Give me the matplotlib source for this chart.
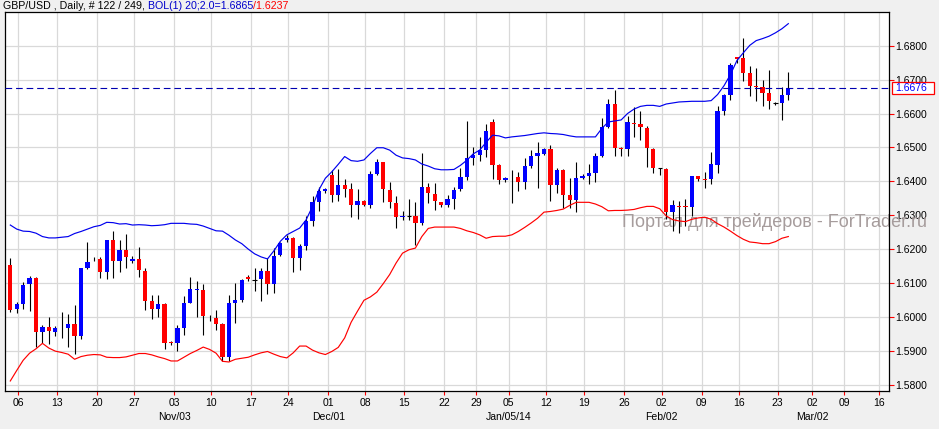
# -*- coding: utf-8 -*-
"""
GBP/USD daily candles with a 20/2.0 Bollinger band, drawn in the style of
a trading terminal window (right price scale, weekly date ticks).
"""

import matplotlib
matplotlib.use("Agg")
import matplotlib.pyplot as plt
import matplotlib.transforms as mtransforms
from matplotlib.patches import Rectangle

# =============================================================================
# --- DATA ---
# =============================================================================

opens = [
    1.6154, 1.6022, 1.6039, 1.6096, 1.6116, 1.5955, 1.5970, 1.5954, 1.5966, 1.5968,
    1.5980, 1.5944, 1.6143, 1.6172, 1.6170, 1.6131, 1.6227, 1.6164, 1.6196, 1.6164,
    1.6170, 1.6136, 1.6046, 1.6022, 1.6039, 1.5925, 1.5922, 1.5968, 1.6042, 1.6079,
    1.6080, 1.5998, 1.5997, 1.5979, 1.5883, 1.6042, 1.6051, 1.6119, 1.6110, 1.6111,
    1.6134, 1.6097, 1.6183, 1.6228, 1.6234, 1.6173, 1.6209, 1.6284, 1.6339, 1.6370,
    1.6419, 1.6359, 1.6389, 1.6377, 1.6331, 1.6342, 1.6329, 1.6423, 1.6456, 1.6375,
    1.6336, 1.6295, 1.6297, 1.6297, 1.6277, 1.6382, 1.6363, 1.6339, 1.6329, 1.6347,
    1.6377, 1.6413, 1.6468, 1.6477, 1.6493, 1.6575, 1.6448, 1.6404, 1.6412, 1.6413,
    1.6399, 1.6445, 1.6475, 1.6481, 1.6495, 1.6389, 1.6432, 1.6360, 1.6345, 1.6409,
    1.6417, 1.6425, 1.6475, 1.6559, 1.6629, 1.6499, 1.6494, 1.6573, 1.6569, 1.6558,
    1.6496, 1.6438, 1.6437, 1.6310, 1.6326, 1.6326, 1.6324, 1.6415, 1.6407, 1.6407,
    1.6447, 1.6607, 1.6654, 1.6767, 1.6764, 1.6718, 1.6681, 1.6677, 1.6661, 1.6630,
    1.6630, 1.6656,
]
highs = [
    1.6173, 1.6045, 1.6102, 1.6122, 1.6119, 1.5977, 1.6000, 1.5974, 1.6015, 1.6009,
    1.6035, 1.6145, 1.6220, 1.6177, 1.6177, 1.6228, 1.6254, 1.6227, 1.6245, 1.6179,
    1.6207, 1.6143, 1.6066, 1.6066, 1.6041, 1.5930, 1.5977, 1.6063, 1.6118, 1.6106,
    1.6096, 1.6005, 1.6021, 1.5982, 1.6066, 1.6099, 1.6112, 1.6125, 1.6145, 1.6143,
    1.6174, 1.6203, 1.6222, 1.6242, 1.6237, 1.6215, 1.6299, 1.6357, 1.6382, 1.6379,
    1.6433, 1.6436, 1.6406, 1.6394, 1.6378, 1.6344, 1.6431, 1.6466, 1.6458, 1.6399,
    1.6357, 1.6311, 1.6348, 1.6338, 1.6484, 1.6396, 1.6394, 1.6340, 1.6360, 1.6384,
    1.6438, 1.6577, 1.6502, 1.6531, 1.6569, 1.6585, 1.6450, 1.6413, 1.6433, 1.6426,
    1.6468, 1.6491, 1.6515, 1.6497, 1.6507, 1.6438, 1.6436, 1.6409, 1.6456, 1.6421,
    1.6451, 1.6484, 1.6587, 1.6642, 1.6669, 1.6502, 1.6593, 1.6619, 1.6607, 1.6563,
    1.6499, 1.6440, 1.6438, 1.6345, 1.6343, 1.6348, 1.6416, 1.6416, 1.6428, 1.6487,
    1.6621, 1.6658, 1.6748, 1.6768, 1.6823, 1.6739, 1.6734, 1.6700, 1.6727, 1.6634,
    1.6677, 1.6723,
]
lows = [
    1.6014, 1.6012, 1.6022, 1.6016, 1.5910, 1.5922, 1.5920, 1.5944, 1.5938, 1.5912,
    1.5891, 1.5934, 1.6142, 1.6165, 1.6114, 1.6112, 1.6114, 1.6133, 1.6145, 1.6158,
    1.6119, 1.6021, 1.5993, 1.6001, 1.5904, 1.5916, 1.5898, 1.5946, 1.6040, 1.6001,
    1.5946, 1.5988, 1.5961, 1.5869, 1.5871, 1.5983, 1.6043, 1.6107, 1.6076, 1.6047,
    1.6069, 1.6070, 1.6180, 1.6220, 1.6131, 1.6137, 1.6196, 1.6267, 1.6311, 1.6365,
    1.6340, 1.6342, 1.6353, 1.6296, 1.6290, 1.6326, 1.6321, 1.6418, 1.6339, 1.6321,
    1.6261, 1.6286, 1.6286, 1.6213, 1.6272, 1.6335, 1.6314, 1.6323, 1.6324, 1.6319,
    1.6372, 1.6404, 1.6448, 1.6460, 1.6473, 1.6407, 1.6393, 1.6399, 1.6335, 1.6372,
    1.6376, 1.6438, 1.6381, 1.6479, 1.6342, 1.6365, 1.6321, 1.6321, 1.6309, 1.6407,
    1.6391, 1.6397, 1.6473, 1.6556, 1.6476, 1.6476, 1.6476, 1.6531, 1.6523, 1.6443,
    1.6425, 1.6420, 1.6288, 1.6253, 1.6248, 1.6268, 1.6297, 1.6402, 1.6381, 1.6391,
    1.6425, 1.6597, 1.6641, 1.6749, 1.6695, 1.6653, 1.6636, 1.6623, 1.6612, 1.6626,
    1.6582, 1.6641,
]
closes = [
    1.6019, 1.6039, 1.6095, 1.6116, 1.5955, 1.5971, 1.5958, 1.5966, 1.5968, 1.5979,
    1.5944, 1.6143, 1.6161, 1.6170, 1.6131, 1.6227, 1.6164, 1.6196, 1.6177, 1.6170,
    1.6137, 1.6046, 1.6022, 1.6039, 1.5922, 1.5922, 1.5968, 1.6042, 1.6083, 1.6081,
    1.6004, 1.5996, 1.5980, 1.5883, 1.6042, 1.6051, 1.6110, 1.6111, 1.6110, 1.6134,
    1.6097, 1.6180, 1.6218, 1.6234, 1.6173, 1.6209, 1.6284, 1.6339, 1.6370, 1.6377,
    1.6360, 1.6389, 1.6377, 1.6331, 1.6342, 1.6329, 1.6423, 1.6456, 1.6376, 1.6339,
    1.6296, 1.6297, 1.6297, 1.6277, 1.6382, 1.6365, 1.6342, 1.6329, 1.6347, 1.6375,
    1.6413, 1.6468, 1.6479, 1.6493, 1.6548, 1.6448, 1.6405, 1.6409, 1.6414, 1.6399,
    1.6445, 1.6475, 1.6483, 1.6495, 1.6389, 1.6432, 1.6360, 1.6345, 1.6409, 1.6417,
    1.6425, 1.6475, 1.6559, 1.6629, 1.6499, 1.6494, 1.6574, 1.6569, 1.6560, 1.6497,
    1.6438, 1.6438, 1.6310, 1.6329, 1.6324, 1.6324, 1.6415, 1.6408, 1.6405, 1.6450,
    1.6607, 1.6654, 1.6744, 1.6761, 1.6718, 1.6682, 1.6677, 1.6661, 1.6636, 1.6630,
    1.6654, 1.6676,
]
bol_upper = [
    1.6271, 1.6259, 1.6253, 1.6252, 1.6247, 1.6237, 1.6233, 1.6233, 1.6235, 1.6237,
    1.6246, 1.6252, 1.6259, 1.6266, 1.6270, 1.6279, 1.6278, 1.6274, 1.6275, 1.6271,
    1.6272, 1.6271, 1.6269, 1.6270, 1.6272, 1.6276, 1.6276, 1.6276, 1.6274, 1.6273,
    1.6268, 1.6261, 1.6254, 1.6253, 1.6241, 1.6227, 1.6216, 1.6200, 1.6186, 1.6177,
    1.6171, 1.6195, 1.6223, 1.6242, 1.6252, 1.6262, 1.6286, 1.6326, 1.6375, 1.6409,
    1.6428, 1.6450, 1.6473, 1.6461, 1.6459, 1.6463, 1.6482, 1.6499, 1.6499, 1.6492,
    1.6477, 1.6469, 1.6467, 1.6463, 1.6451, 1.6445, 1.6437, 1.6434, 1.6434, 1.6435,
    1.6447, 1.6462, 1.6481, 1.6492, 1.6515, 1.6536, 1.6534, 1.6528, 1.6531, 1.6533,
    1.6535, 1.6538, 1.6541, 1.6543, 1.6541, 1.6540, 1.6538, 1.6534, 1.6531, 1.6531,
    1.6531, 1.6531, 1.6556, 1.6575, 1.6578, 1.6581, 1.6600, 1.6613, 1.6621, 1.6624,
    1.6624, 1.6621, 1.6628, 1.6631, 1.6634, 1.6635, 1.6636, 1.6636, 1.6636, 1.6638,
    1.6656, 1.6682, 1.6715, 1.6756, 1.6779, 1.6801, 1.6815, 1.6821, 1.6828, 1.6838,
    1.6850, 1.6865,
]
bol_lower = [
    1.5811, 1.5842, 1.5872, 1.5893, 1.5906, 1.5922, 1.5908, 1.5899, 1.5895, 1.5890,
    1.5875, 1.5883, 1.5887, 1.5889, 1.5888, 1.5881, 1.5880, 1.5880, 1.5882, 1.5887,
    1.5892, 1.5892, 1.5888, 1.5882, 1.5877, 1.5870, 1.5870, 1.5881, 1.5892, 1.5901,
    1.5911, 1.5904, 1.5893, 1.5869, 1.5867, 1.5875, 1.5878, 1.5881, 1.5888, 1.5894,
    1.5898, 1.5890, 1.5883, 1.5879, 1.5894, 1.5914, 1.5914, 1.5902, 1.5894, 1.5889,
    1.5898, 1.5910, 1.5938, 1.5984, 1.6017, 1.6049, 1.6059, 1.6073, 1.6098, 1.6125,
    1.6159, 1.6188, 1.6198, 1.6203, 1.6237, 1.6261, 1.6265, 1.6265, 1.6265, 1.6265,
    1.6261, 1.6254, 1.6249, 1.6242, 1.6232, 1.6237, 1.6238, 1.6238, 1.6242, 1.6252,
    1.6264, 1.6277, 1.6291, 1.6309, 1.6311, 1.6314, 1.6318, 1.6329, 1.6338, 1.6338,
    1.6338, 1.6333, 1.6325, 1.6313, 1.6314, 1.6314, 1.6315, 1.6317, 1.6322, 1.6326,
    1.6326, 1.6319, 1.6298, 1.6287, 1.6283, 1.6281, 1.6288, 1.6292, 1.6294, 1.6288,
    1.6275, 1.6265, 1.6253, 1.6240, 1.6229, 1.6221, 1.6219, 1.6216, 1.6216, 1.6222,
    1.6232, 1.6237,
]

# weekly date ticks (position in bars, label) and the month captions
tick_pos = [1.24, 7.31, 13.53, 19.28, 25.51, 31.26, 37.48, 43.23, 49.46, 55.21,
            61.28, 67.50, 72.43, 77.51, 83.27, 89.27, 95.49, 101.31, 107.53,
            113.28, 119.35, 124.73, 129.70, 135.15]
tick_labels = ["06", "13", "20", "27", "03", "10", "17", "24", "01", "08",
               "15", "22", "29", "05", "12", "19", "26", "02", "09", "16",
               "23", "02", "09", "16"]
month_tick_idx = [4, 8, 13, 17, 21]
month_labels = ["Nov/03", "Dec/01", "Jan/05/14", "Feb/02", "Mar/02"]

price_ticks = [1.58, 1.59, 1.60, 1.61, 1.62, 1.63, 1.64, 1.65, 1.66, 1.67, 1.68]
last_price = 1.6676

# =============================================================================
# --- STYLE ---
# =============================================================================
FONT = "Liberation Sans"
FS = 7.5
BULL = "#0000ff"
BEAR = "#ff0000"
GRID = "#d9d9d9"
BG = "#f0f0f0"
W, H = 939, 429
# plot area in pixels (left, top, right, bottom)
PL, PT, PR, PB = 4.7, 12.3, 889.0, 391.0


def draw_chart():
    plt.rcParams["font.family"] = [FONT, "DejaVu Sans"]
    fig = plt.figure(figsize=(W / 100, H / 100), dpi=100, facecolor=BG)
    ax = fig.add_axes([PL / W, (H - PB) / H, (PR - PL) / W, (PB - PT) / H])
    ax.set_facecolor("white")

    n = len(closes)
    xs = list(range(n))

    # --- candles ---
    for i in xs:
        o, h, l, c = opens[i], highs[i], lows[i], closes[i]
        ax.vlines(i, l, h, color="black", lw=0.8, zorder=3)
        if c == o:
            ax.hlines(c, i - 0.34, i + 0.34, color="black", lw=0.8, zorder=4)
            continue
        col = BULL if c > o else BEAR
        ax.bar(i, abs(c - o), bottom=min(o, c), width=0.66, color=col,
               linewidth=0, zorder=4)

    # --- Bollinger bands ---
    ax.plot(xs, bol_upper, color="#0000ee", lw=0.85, zorder=5)
    ax.plot(xs, bol_lower, color=BEAR, lw=0.85, zorder=5)

    # --- last price line ---
    ax.axhline(last_price, color="#0000b0", lw=0.8, dashes=(6, 3.5), zorder=6)

    # --- axes ---
    ax.set_xlim((PL - 10.3) / 6.43, (PR - 10.3) / 6.43)
    ax.set_ylim(1.58 - (PB - 384.7) / 3390, 1.68 + (45.7 - PT) / 3390)
    ax.set_xticks(tick_pos)
    ax.set_xticklabels(tick_labels)
    ax.set_yticks(price_ticks)
    ax.set_yticklabels(["%.4f" % p for p in price_ticks])
    ax.yaxis.tick_right()
    ax.tick_params(axis="x", colors="red", labelcolor="black", length=3,
                   width=0.8, pad=2, labelsize=FS)
    ax.tick_params(axis="y", colors="red", labelcolor="black", length=3.5,
                   width=0.8, pad=1, labelsize=FS)
    ax.grid(True, color=GRID, lw=0.9)
    ax.set_axisbelow(True)
    for sp in ax.spines.values():
        sp.set_color("black")
        sp.set_linewidth(0.9)

    xt = ax.get_xaxis_transform()
    for k, lab in zip(month_tick_idx, month_labels):
        ax.text(tick_pos[k], -(416.7 - PB) / (PB - PT), lab, transform=xt,
                ha="center", va="center", fontsize=FS, color="black")

    # --- watermark, behind the candles ---
    aw = PR - PL
    ah = PB - PT
    ax.text((622 - PL) / aw, (PB - 222) / ah, "Портал для трейдеров - ForTrader.ru",
            transform=ax.transAxes, ha="left", va="center", fontsize=13,
            color="#a69c9c", zorder=2, clip_on=False)

    # --- last price box on the scale ---
    yt = mtransforms.blended_transform_factory(ax.transAxes, ax.transData)
    box_h = 12.3 / 3390
    ax.add_patch(Rectangle((1 + 3.5 / aw, last_price - box_h / 2), 42 / aw, box_h,
                           transform=yt, facecolor="white", edgecolor="red",
                           lw=0.9, clip_on=False, zorder=10))
    ax.text(1 + 6.5 / aw, last_price, "%.4f" % last_price, transform=yt,
            ha="left", va="center", fontsize=FS, color="#0000ff", zorder=11)

    # --- header line, three colours ---
    t1 = fig.text(2.7 / W, 1 - 5.8 / H, "GBP/USD , Daily, # 122 / 249, ",
                  ha="left", va="center", fontsize=7.7, color="black")
    t2 = ax.annotate("BOL(1) 20;2.0=%.4f" % bol_upper[-1], xy=(1, 0),
                     xycoords=t1, ha="left", va="bottom", fontsize=7.7,
                     color="#0000cc")
    ax.annotate("/%.4f" % bol_lower[-1], xy=(1, 0), xycoords=t2,
                ha="left", va="bottom", fontsize=7.7, color="red")

    fig.savefig("out.png", dpi=100, facecolor=BG)


if __name__ == "__main__":
    draw_chart()
